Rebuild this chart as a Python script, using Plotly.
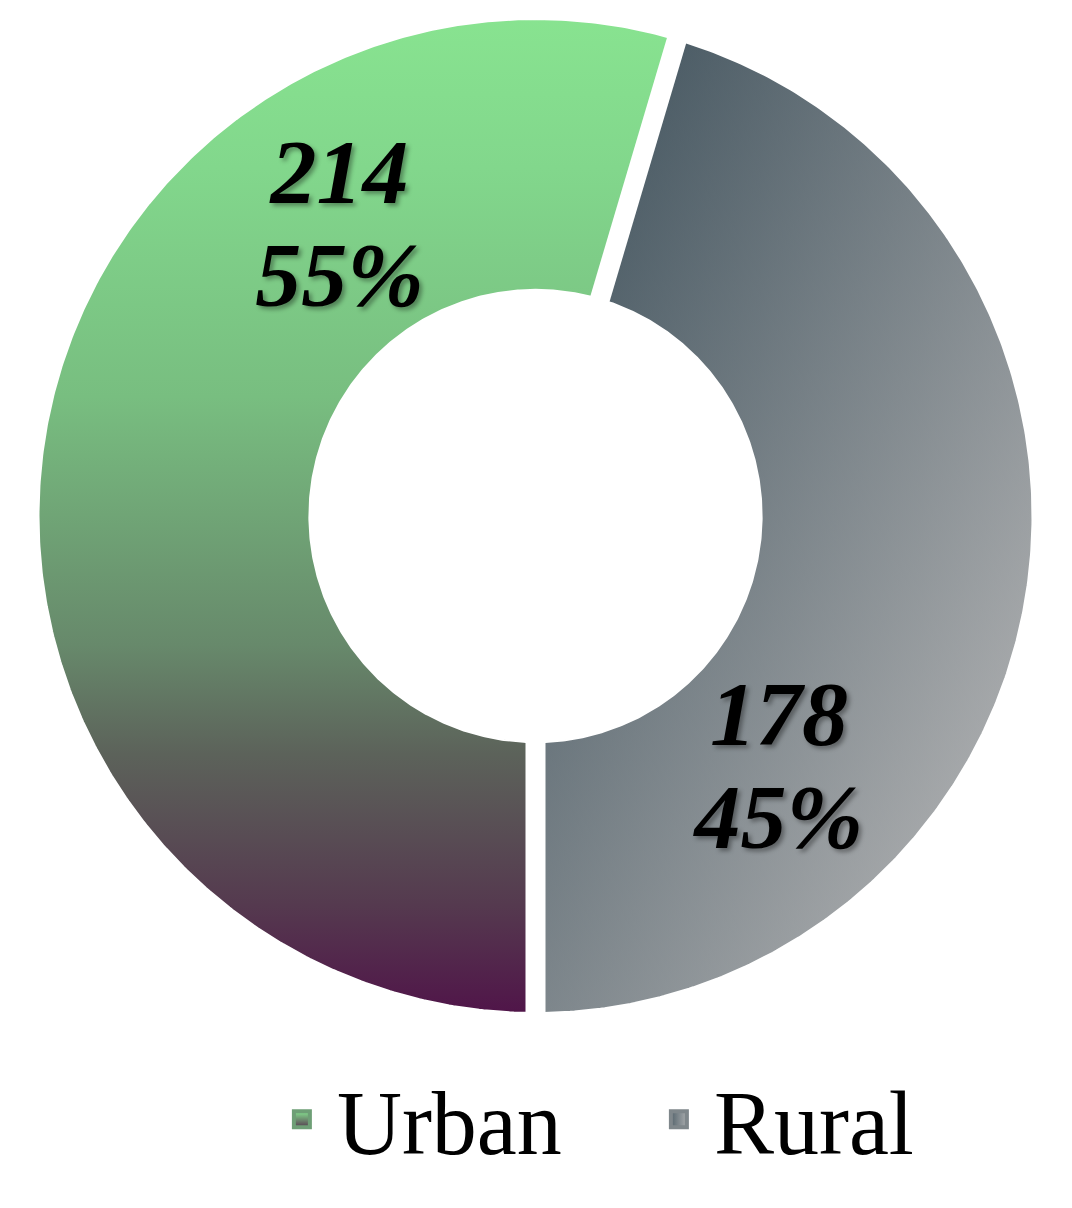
import numpy as np
import plotly.graph_objects as go

# ---------------- data ----------------
CATEGORIES = ["Urban", "Rural"]
VALUES = [214, 178]

# ---------------- style / layout constants ----------------
W, H = 1072, 1208
PAGE_OFFSET = 8.0                # browser body margin
CX_PX, CY_PX = 535.5 - PAGE_OFFSET, 516.0 - PAGE_OFFSET   # donut centre (figure px)
R_PX = 497.0                     # outer radius in pixels
HOLE = 0.455                     # inner radius / outer radius
START_ANGLE = 180.0              # degrees clockwise from 12 o'clock
GAP_PX = 20
EDGE_PX = 2

URBAN_SCALE = [[0.00, "#501549"], [0.11, "#553A4F"], [0.26, "#5C625A"],
               [0.37, "#67896B"], [0.62, "#78BE80"], [0.85, "#82D78C"],
               [1.00, "#88E390"]]
RURAL_DARK = "rgb(58,77,88)"
RURAL_LIGHT = "rgb(190,189,189)"

LABEL_ANGLE = {"Urban": 326.0, "Rural": 136.0}
LABEL_R = 0.705
PCT_DROP_PX = 11
LABEL_FONT = dict(family="Liberation Serif", size=92, color="black",
                  weight="bold", style="italic",
                  shadow="3px 3px 4px rgba(0,0,0,0.35)")

# ---------------- geometry from data ----------------
total = sum(VALUES)
fracs = [v / total for v in VALUES]
bounds = [START_ANGLE]
for f in fracs:
    bounds.append(bounds[-1] + 360.0 * f)


def polar(theta_deg, r):
    t = np.radians(theta_deg)
    return r * np.sin(t), r * np.cos(t)


def ring_sector(t0, t1, r_in, r_out, n=360):
    th = np.linspace(t0, t1, n)
    xo, yo = polar(th, r_out)
    xi, yi = polar(th[::-1], r_in)
    x = np.concatenate([xo, xi, xo[:1]])
    y = np.concatenate([yo, yi, yo[:1]])
    return x, y


fig = go.Figure()

# slices
for i, cat in enumerate(CATEGORIES):
    x, y = ring_sector(bounds[i], bounds[i + 1], HOLE, 1.0)
    if cat == "Urban":
        fig.add_trace(go.Scatter(
            x=x, y=y, mode="lines", fill="toself", line=dict(width=0),
            fillgradient=dict(type="vertical", colorscale=URBAN_SCALE),
            showlegend=False, hoverinfo="skip", name=cat))
    else:
        fig.add_trace(go.Scatter(
            x=x, y=y, mode="lines", fill="toself", line=dict(width=0),
            fillgradient=dict(type="horizontal",
                              colorscale=[[0, RURAL_DARK], [1, RURAL_LIGHT]]),
            showlegend=False, hoverinfo="skip", name=cat))
        fig.add_trace(go.Scatter(
            x=x, y=y, mode="lines", fill="toself", line=dict(width=0),
            fillgradient=dict(type="vertical",
                              colorscale=[[0, RURAL_LIGHT], [1, RURAL_DARK]]),
            opacity=0.5, showlegend=False, hoverinfo="skip", name=cat))

# smooth white edges on the outer / inner rims
ring = np.linspace(0, 360, 721)
for rr in (1.0, HOLE):
    ex, ey = polar(ring, rr)
    fig.add_trace(go.Scatter(x=ex, y=ey, mode="lines",
                             line=dict(color="white", width=EDGE_PX),
                             showlegend=False, hoverinfo="skip"))

# white separators between slices
for b in bounds[:-1]:
    sx, sy = polar(np.array([b, b]), np.array([HOLE - 0.05, 1.05]))
    fig.add_trace(go.Scatter(x=sx, y=sy, mode="lines",
                             line=dict(color="white", width=GAP_PX),
                             showlegend=False, hoverinfo="skip"))

# data labels
drop = PCT_DROP_PX / R_PX
lx, ly, lt, lp = [], [], [], []
for cat, v, f in zip(CATEGORIES, VALUES, fracs):
    px_, py_ = polar(LABEL_ANGLE[cat], LABEL_R)
    lx += [px_, px_]
    ly += [py_, py_ - drop]
    lt += [str(v), f"{round(f * 100)}%"]
    lp += ["top center", "bottom center"]
fig.add_trace(go.Scatter(x=lx, y=ly, mode="text", text=lt, textposition=lp,
                         textfont=LABEL_FONT, showlegend=False,
                         hoverinfo="skip"))

# legend entries
fig.add_trace(go.Scatter(
    x=[None], y=[None], mode="markers", name="Urban",
    marker=dict(symbol="square", size=16, color="#86E290",
                gradient=dict(type="vertical", color="#553A4F"),
                line=dict(width=4, color="#6E9F76"))))
fig.add_trace(go.Scatter(
    x=[None], y=[None], mode="markers", name="Rural",
    marker=dict(symbol="square", size=16, color="#56656D",
                gradient=dict(type="horizontal", color="#A8ABAD"),
                line=dict(width=4, color="#7F878B"))))

fig.update_layout(
    width=W, height=H,
    margin=dict(l=0, r=0, t=0, b=0),
    paper_bgcolor="white", plot_bgcolor="white",
    xaxis=dict(range=[-CX_PX / R_PX, (W - CX_PX) / R_PX], visible=False,
               fixedrange=True),
    yaxis=dict(range=[-(H - CY_PX) / R_PX, CY_PX / R_PX], visible=False,
               fixedrange=True),
    showlegend=True,
    legend=dict(orientation="h", x=0.2415, xanchor="left", y=0.080,
                yanchor="middle", itemwidth=60, itemsizing="trace",
                entrywidth=302, entrywidthmode="pixels",
                font=dict(family="Liberation Serif", size=90, color="black"),
                bgcolor="rgba(0,0,0,0)"),
)

fig.write_html("out.html")
